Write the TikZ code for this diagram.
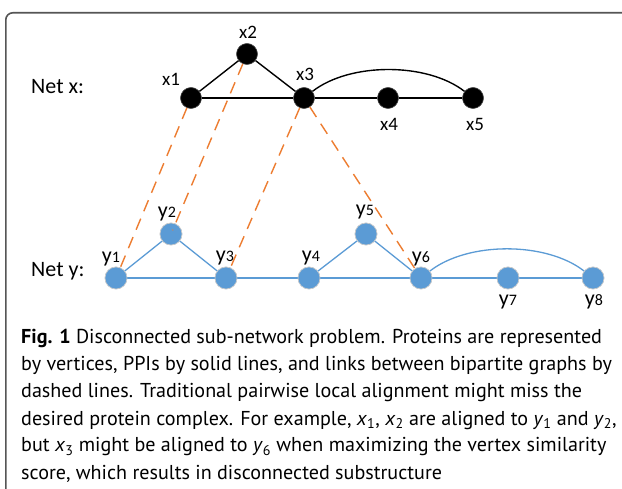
\documentclass[tikz,border=0pt]{standalone}
\usepackage{fontspec}
\setmainfont{PT Sans}
\newfontfamily\labfont{Carlito}
\definecolor{nblue}{HTML}{5B9BD5}
\definecolor{dorange}{HTML}{ED7D31}
\definecolor{framec}{HTML}{555555}
\begin{document}
\begin{tikzpicture}[x=1pt,y=-1pt,
  xnode/.style={circle,fill=black,draw=black!60,line width=0.4pt,minimum size=21pt,inner sep=0pt},
  ynode/.style={circle,fill=nblue,draw=gray!40,line width=0.6pt,minimum size=22pt,inner sep=0pt},
  xedge/.style={black,line width=1.4pt},
  yedge/.style={nblue,line width=1.3pt},
  link/.style={dorange,line width=1.4pt,dash pattern=on 12pt off 8pt},
  xlab/.style={anchor=base,inner sep=0pt,font=\labfont\fontsize{19}{19}\selectfont},
  ylab/.style={anchor=base,inner sep=0pt,font=\labfont\fontsize{22}{22}\selectfont},
  netlab/.style={anchor=base west,inner sep=0pt,font=\labfont\fontsize{22}{22}\selectfont},
  capline/.style={anchor=base west,inner sep=0pt,font=\fontsize{20.1}{20}\selectfont}]
\useasboundingbox (0,0) rectangle (622,489);
\clip (0,0) rectangle (622,489);
\fill[white] (0,0) rectangle (622,489);
% frame
\draw[framec,line width=1.6pt,rounded corners=7pt] (5.8,520) -- (5.8,12.8) -- (650,12.8);

% Net x nodes
\node[xnode] (x1) at (191,98) {};
\node[xnode] (x2) at (247,54) {};
\node[xnode] (x3) at (304,98) {};
\node[xnode] (x4) at (388,98) {};
\node[xnode] (x5) at (473,98) {};
% Net y nodes
\node[ynode] (y1) at (116,278) {};
\node[ynode] (y2) at (171,234) {};
\node[ynode] (y3) at (226,278) {};
\node[ynode] (y4) at (309,278) {};
\node[ynode] (y5) at (366,234) {};
\node[ynode] (y6) at (421,278) {};
\node[ynode] (y7) at (508,278) {};
\node[ynode] (y8) at (593,278) {};

% edges
\draw[xedge] (x1) -- (x2);
\draw[xedge] (x2) -- (x3);
\draw[xedge] (x1) -- (x3);
\draw[xedge] (x3) -- (x4);
\draw[xedge] (x4) -- (x5);
\draw[xedge] (x3) to[out=38,in=142,looseness=0.8] (x5);
\draw[yedge] (y1) -- (y2);
\draw[yedge] (y2) -- (y3);
\draw[yedge] (y1) -- (y3);
\draw[yedge] (y3) -- (y4);
\draw[yedge] (y4) -- (y5);
\draw[yedge] (y5) -- (y6);
\draw[yedge] (y4) -- (y6);
\draw[yedge] (y6) -- (y7);
\draw[yedge] (y7) -- (y8);
\draw[yedge] (y6) to[out=38,in=142,looseness=0.8] (y8);

% redraw nodes on top of edges
\foreach \n in {x1,x2,x3,x4,x5}{\node[xnode] at (\n) {};}
\foreach \n in {y1,y2,y3,y4,y5,y6,y7,y8}{\node[ynode] at (\n) {};}

% dashed links
\draw[link,shorten >=8pt] (x1) -- (y1.center);
\draw[link,shorten >=4pt] (x2) -- (y2.center);
\draw[link,shorten >=8pt] (x3) -- (y3.center);
\draw[link,shorten >=9pt] (x3) -- (y6.center);

% labels
\node[netlab] (netx) at (31,94) {Net x:};
\node[netlab] (nety) at (31,277) {Net y:};
\node[xlab] (lx1) at (171,86) {x1};
\node[xlab] (lx2) at (248,39) {x2};
\node[xlab] (lx3) at (305,81) {x3};
\node[xlab] (lx4) at (389,131) {x4};
\node[xlab] (lx5) at (475,131) {x5};
\node[ylab] (ly1) at (111,263) {y\fontsize{16}{16}\selectfont 1};
\node[ylab] (ly2) at (167,218) {y\fontsize{16}{16}\selectfont 2};
\node[ylab] (ly3) at (225,262) {y\fontsize{16}{16}\selectfont 3};
\node[ylab] (ly4) at (311,262) {y\fontsize{16}{16}\selectfont 4};
\node[ylab] (ly5) at (365,216) {y\fontsize{16}{16}\selectfont 5};
\node[ylab] (ly6) at (421,263) {y\fontsize{16}{16}\selectfont 6};
\node[ylab] (ly7) at (508,306) {y\fontsize{16}{16}\selectfont 7};
\node[ylab] (ly8) at (594,306) {y\fontsize{16}{16}\selectfont 8};

% caption
\node[capline] (c1) at (21,344) {\textbf{Fig. 1} Disconnected sub-network problem. Proteins are represented};
\node[capline] (c2) at (21,371) {by vertices, PPIs by solid lines, and links between bipartite graphs by};
\node[capline] (c3) at (21,398) {dashed lines. Traditional pairwise local alignment might miss the};
\node[capline] (c4) at (21,425) {desired protein complex. For example, \textit{x}\textsubscript{1}, \textit{x}\textsubscript{2} are aligned to \textit{y}\textsubscript{1} and \textit{y}\textsubscript{2},};
\node[capline] (c5) at (21,452) {but \textit{x}\textsubscript{3} might be aligned to \textit{y}\textsubscript{6} when maximizing the vertex similarity};
\node[capline] (c6) at (21,479) {score, which results in disconnected substructure};
\end{tikzpicture}
\end{document}
